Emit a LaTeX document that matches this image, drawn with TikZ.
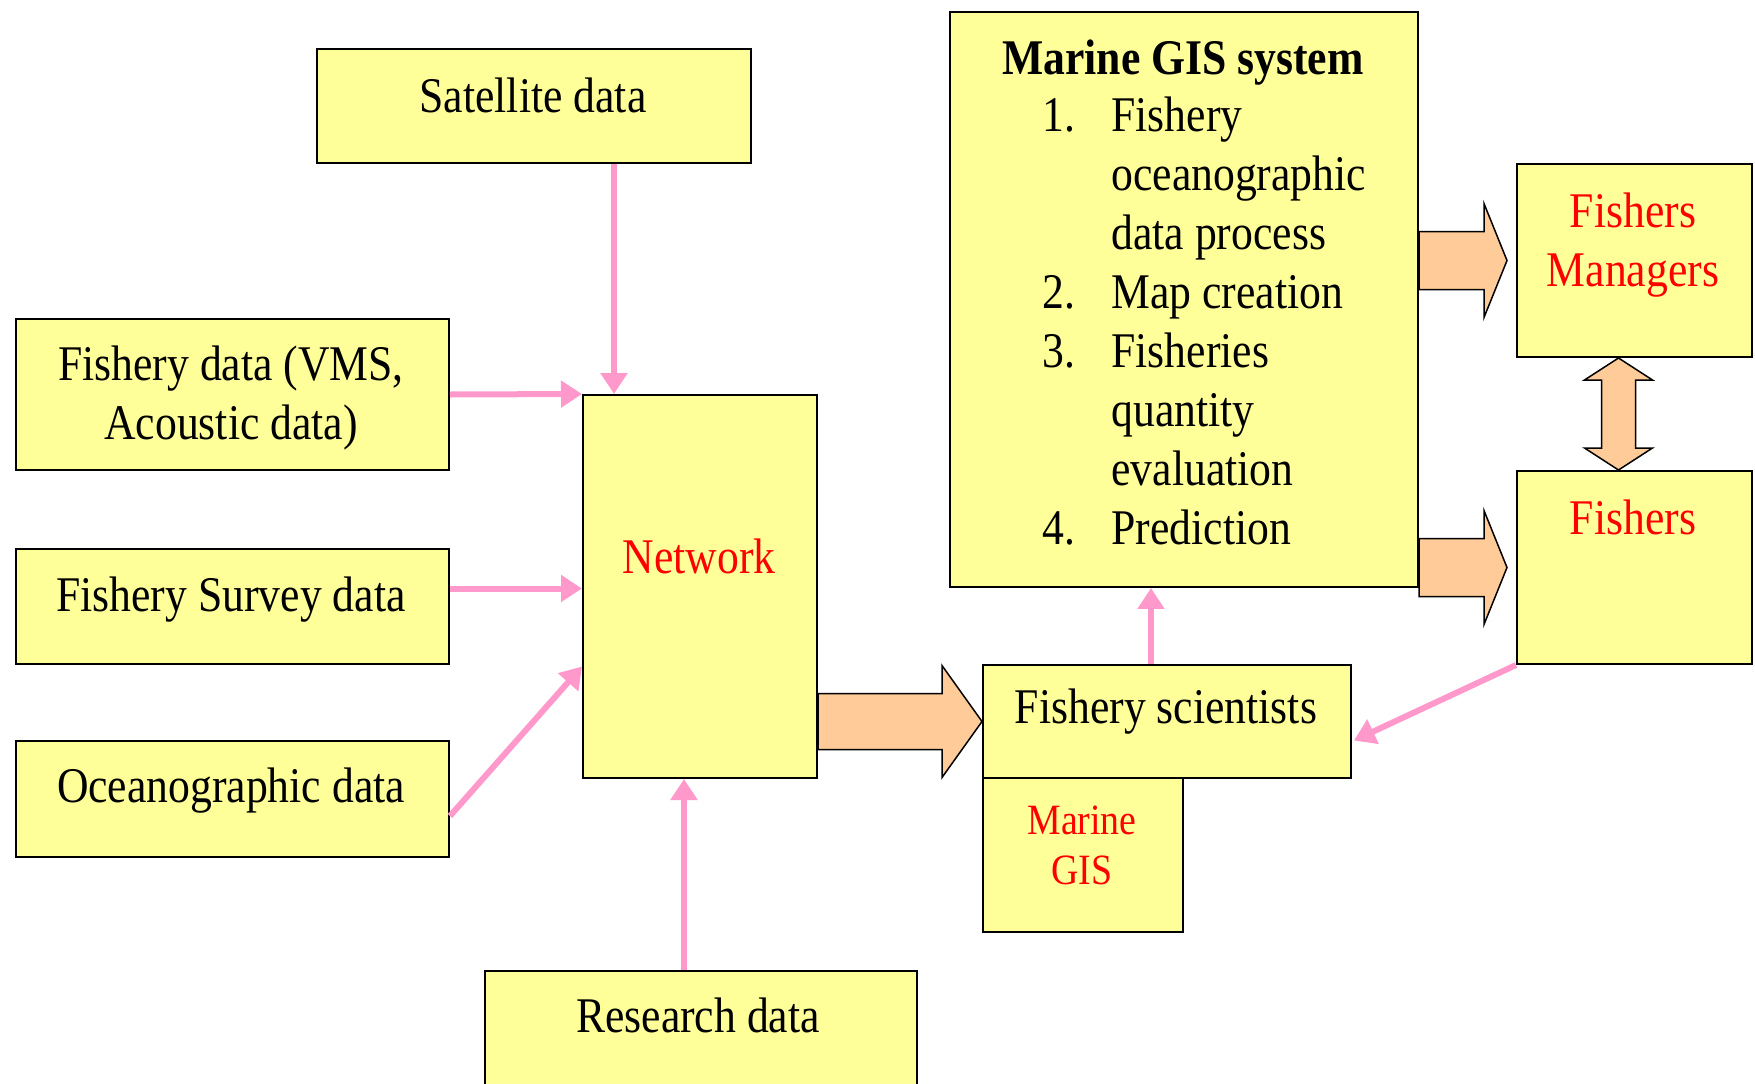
\documentclass[tikz,border=0pt]{standalone}
\usepackage{fontspec}
\setmainfont{Liberation Serif}[FakeStretch=0.875]
\usetikzlibrary{arrows.meta}
\usetikzlibrary{calc}
\usetikzlibrary{positioning}

\definecolor{boxyellow}{HTML}{FFFF99}
\definecolor{feedpink}{HTML}{FF99CC}
\definecolor{fatorange}{HTML}{FFCC99}

\tikzset{
  box/.style={draw=black, fill=boxyellow, line width=0.2mm, inner sep=0pt, anchor=north west},
  txt/.style={font=\fontsize{14.2}{16.8}\selectfont, align=center, inner sep=0pt},
  redtxt/.style={txt, text=red},
  smalltxt/.style={font=\fontsize{12.3}{14.2}\selectfont, align=center, inner sep=0pt, text=red},
  feed/.style={draw=feedpink, line width=0.6mm, -{Triangle[length=2.1mm,width=2.6mm]}},
  fat/.style={fill=fatorange, draw=black, line width=0.15mm, line join=miter},
}

% horizontal block arrow: from, to, shaft half, head half, head length
\newcommand\fatarrow[5]{%
  \draw[fat] ($(#1)+(0,-#3)$) -- ($(#2)+(-#5,-#3)$) -- ($(#2)+(-#5,-#4)$) -- (#2)
    -- ($(#2)+(-#5,#4)$) -- ($(#2)+(-#5,#3)$) -- ($(#1)+(0,#3)$) -- cycle;}

\begin{document}
\begin{tikzpicture}[x=0.1mm, y=-0.1mm]
  \clip (0,0) rectangle (1755,1084);

  % sources
  \node[box, minimum width=43.4mm, minimum height=11.4mm] (sat) at (316,48) {};
  \node[box, minimum width=43.3mm, minimum height=15.1mm] (fdata) at (15,318) {};
  \node[box, minimum width=43.3mm, minimum height=11.5mm] (survey) at (15,548) {};
  \node[box, minimum width=43.3mm, minimum height=11.6mm] (ocean) at (15,740) {};
  \node[box, minimum width=23.4mm, minimum height=38.3mm] (net) at (582,394) {};
  \node[box, minimum width=43.2mm, minimum height=13.0mm] (res) at (484,970) {};

  % GIS side
  \node[box, minimum width=46.8mm, minimum height=57.5mm] (gis) at (949,11) {};
  \node[box, minimum width=23.5mm, minimum height=19.3mm] (mgr) at (1516,163) {};
  \node[box, minimum width=23.5mm, minimum height=19.3mm] (fsh) at (1516,470) {};
  \node[box, minimum width=36.8mm, minimum height=11.3mm] (sci) at (982,664) {};
  \node[box, minimum width=20.0mm, minimum height=15.4mm] (mgis) at (982,777) {};

  % texts
  \node[txt] (sat-t) at (533,95) {Satellite data};
  \node[txt] (fdata-t) at (231,398) {Fishery data (VMS,\\Acoustic data)};
  \node[txt] (survey-t) at (231,600) {Fishery Survey data};
  \node[txt] (ocean-t) at (231,791) {Oceanographic data};
  \node[redtxt] (net-t) at (699,556) {Network};
  \node[txt] (res-t) at (698,1015) {Research data};
  \node[txt] (sci-t) at (1166,712) {Fishery scientists};
  \node[smalltxt] (mgis-t) at (1082,845) {Marine\\GIS};
  \node[redtxt] (mgr-t) at (1633,245) {Fishers\\Managers};
  \node[redtxt] (fsh-t) at (1633,517) {Fishers};
  \node[txt, font=\fontsize{14.2}{16.8}\selectfont\bfseries] (gis-t) at (1183,63) {Marine GIS system};
  \node[txt, anchor=base west] (gis-list) at (1042,131) {%
    \begin{tabular}[t]{@{}r@{\hspace{3.6mm}}l@{}}
      1. & Fishery\\
         & oceanographic\\
         & data process\\
      2. & Map creation\\
      3. & Fisheries\\
         & quantity\\
         & evaluation\\
      4. & Prediction
    \end{tabular}};

  % block arrows
  \coordinate (n2s) at (net.east |- sci.west);
  \fatarrow{n2s}{sci.west}{28}{56}{40}
  \coordinate (g2m) at (gis.east |- mgr.west);
  \coordinate (g2m-tip) at ($(mgr.west)+(-9,0)$);
  \fatarrow{g2m}{g2m-tip}{29}{57}{23}
  \coordinate (g2f) at (gis.east |- fsh.west);
  \coordinate (g2f-tip) at ($(fsh.west)+(-9,0)$);
  \fatarrow{g2f}{g2f-tip}{29}{57}{23}

  \coordinate (dtop) at ($(mgr.south)+(-16,0)$);
  \coordinate (dbot) at ($(fsh.north)+(-16,0)$);
  \draw[fat] (dtop) -- ($(dtop)+(34,22)$) -- ($(dtop)+(17,22)$) -- ($(dbot)+(17,-22)$)
    -- ($(dbot)+(34,-22)$) -- (dbot) -- ($(dbot)+(-34,-22)$) -- ($(dbot)+(-17,-22)$)
    -- ($(dtop)+(-17,22)$) -- ($(dtop)+(-34,22)$) -- cycle;

  % feeds
  \coordinate (satin) at ($(net.north west)+(32,0)$);
  \draw[feed] (sat.south -| satin) -- (satin);
  \draw[feed] (fdata.east) -- (net.north west);
  \coordinate (survout) at ($(survey.east)+(0,-18)$);
  \draw[feed] (survout) -- (survout -| net.west);
  \draw[feed] ($(ocean.east)+(0,17)$) -- ($(net.west)+(0,80)$);
  \coordinate (resin) at ($(net.south)+(-16,0)$);
  \draw[feed] (res.north -| resin) -- (resin);
  \coordinate (sciout) at ($(sci.north)+(-16,0)$);
  \draw[feed] (sciout) -- (sciout |- gis.south);
  \draw[feed] (fsh.south west) -- ($(sci.east)+(2,19)$);
\end{tikzpicture}
\end{document}
